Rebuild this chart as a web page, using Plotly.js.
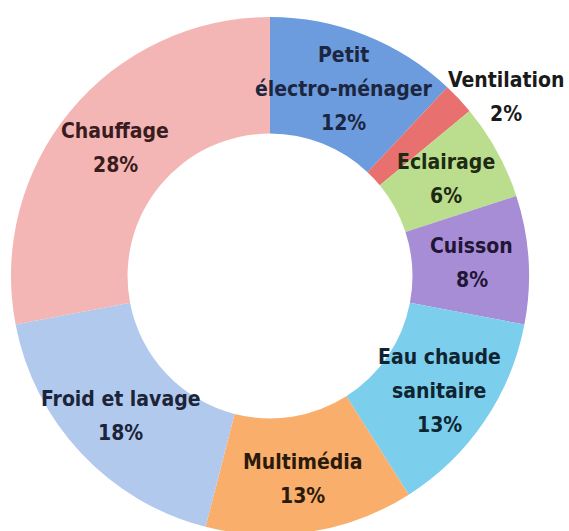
<!DOCTYPE html>
<html>
<head>
<meta charset="utf-8">
<script src="https://cdn.plot.ly/plotly-3.0.1.min.js"></script>
<style>
html,body{margin:0;padding:0;overflow:hidden;background:#fff;}
#chart{width:569px;height:560px;}
</style>
</head>
<body>
<div id="chart"></div>
<script>
const categories = ["Petit<br>électro-ménager", "Ventilation", "Eclairage", "Cuisson", "Eau chaude<br>sanitaire", "Multimédia", "Froid et lavage", "Chauffage"];
const shares = [12, 2, 6, 8, 13, 13, 18, 28];
const colors = ["#6c9cde", "#e8716f", "#bade8e", "#a78cd6", "#7bcfec", "#f9ae6c", "#b2c9ee", "#f4b6b5"];
const textColors = ["#1c2640", "#1a1a1a", "#1e2a12", "#1f1636", "#0f2430", "#2a1a0c", "#1b2438", "#3a1c1e"];
// label placement: radius as a fraction of the outer radius, angular nudge in degrees
const labelRadius = [0.775, 1.145, 0.775, 0.78, 0.79, 0.795, 0.79, 0.775];
const labelAngleShift = [0, 6, 0, 0, 0, 0, 0, 0];

const FONT = "DejaVu Sans Condensed, DejaVu Sans, sans-serif";
const FONT_SIZE = 21;
const LINE_GAP = 34;

const trace = {
  type: "pie",
  labels: categories,
  values: shares,
  sort: false,
  direction: "clockwise",
  rotation: 0,
  hole: 0.55,
  marker: {colors: colors, line: {width: 0}},
  textinfo: "none",
  showlegend: false,
  hoverinfo: "none",
  domain: {x: [0, 1], y: [0, 1]}
};

// Build text labels from the data (slice mid-angles via cumulative shares)
const total = shares.reduce((a, b) => a + b, 0);
const annotations = [];
let cum = 0;
shares.forEach((v, i) => {
  const mid = (cum + v / 2) / total;
  cum += v;
  const theta = (mid * 360 + labelAngleShift[i]) * Math.PI / 180;
  const r = 0.5 * labelRadius[i];
  const x = 0.5 + r * Math.sin(theta);
  const y = 0.5 + r * Math.cos(theta);
  const lines = categories[i].split("<br>").concat([v + "%"]);
  const n = lines.length;
  lines.forEach((t, k) => {
    annotations.push({
      xref: "paper", yref: "paper", x: x, y: y,
      xanchor: "center", yanchor: "middle",
      yshift: ((n - 1) / 2 - k) * LINE_GAP,
      text: t, showarrow: false,
      font: {family: FONT, size: FONT_SIZE, weight: "bold", color: textColors[i]}
    });
  });
});

const layout = {
  width: 569,
  height: 560,
  margin: {l: 11, r: 40, t: 17, b: 25},
  paper_bgcolor: "#ffffff",
  showlegend: false,
  annotations: annotations
};

Plotly.newPlot("chart", [trace], layout, {staticPlot: true, displayModeBar: false});
</script>
</body>
</html>
